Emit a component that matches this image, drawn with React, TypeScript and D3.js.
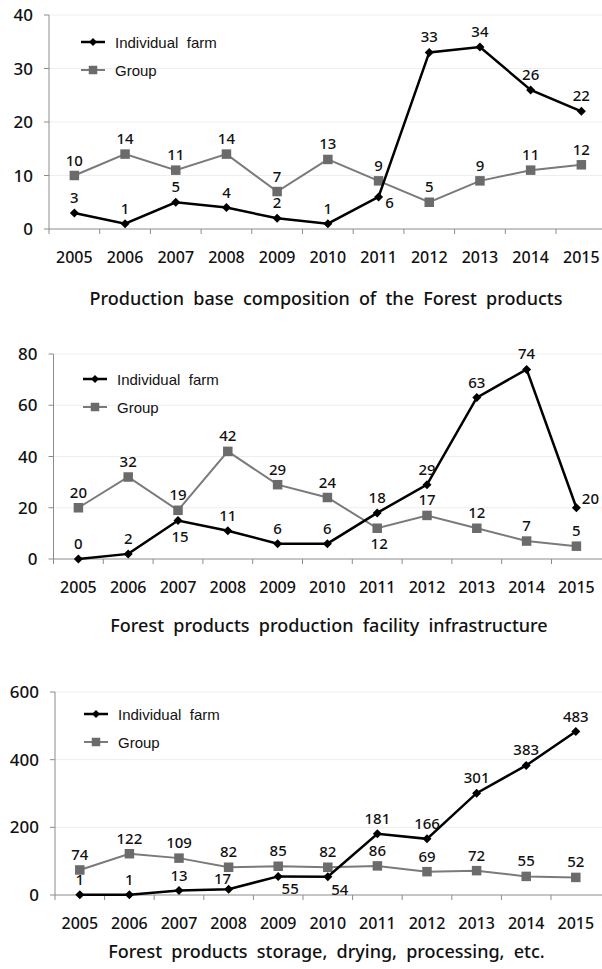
import * as d3 from "d3";

const years = ["2005", "2006", "2007", "2008", "2009", "2010", "2011", "2012", "2013", "2014", "2015"];

// Production base composition
const baseIndividual = [3, 1, 5, 4, 2, 1, 6, 33, 34, 26, 22];
const baseGroup = [10, 14, 11, 14, 7, 13, 9, 5, 9, 11, 12];
const baseTicks = [0, 10, 20, 30, 40];

// Production facility infrastructure
const facilityIndividual = [0, 2, 15, 11, 6, 6, 18, 29, 63, 74, 20];
const facilityGroup = [20, 32, 19, 42, 29, 24, 12, 17, 12, 7, 5];
const facilityTicks = [0, 20, 40, 60, 80];

// Storage, drying, processing
const storageIndividual = [1, 1, 13, 17, 55, 54, 181, 166, 301, 383, 483];
const storageGroup = [74, 122, 109, 82, 85, 82, 86, 69, 72, 55, 52];
const storageTicks = [0, 200, 400, 600];

// where each value label sits relative to its point
const baseIndividualPos = ["t", "t", "t", "t", "t", "t", "rb", "t", "t", "t", "t"];
const baseGroupPos = ["t", "t", "t", "t", "t", "t", "t", "t", "t", "t", "t"];
const facilityIndividualPos = ["t", "t", "b", "t", "t", "t", "t", "t", "t", "t", "r"];
const facilityGroupPos = ["t", "t", "t", "t", "t", "t", "b", "t", "t", "t", "t"];
const storageIndividualPos = ["t", "t", "t", "tl", "br", "br", "t", "t", "t", "t", "t"];
const storageGroupPos = ["t", "t", "t", "t", "t", "t", "t", "t", "t", "t", "t"];

const titles = [
  "Production base composition of the Forest products",
  "Forest products production facility infrastructure",
  "Forest products storage, drying, processing, etc.",
];

const offsets: Record<string, [number, number]> = {
  t: [0, -10],
  b: [2, 21],
  rb: [11, 11],
  br: [12, 18],
  r: [14, -4],
  tl: [-6, -5],
};

const panels = [
  {
    title: titles[0], individual: baseIndividual, group: baseGroup, iPos: baseIndividualPos, gPos: baseGroupPos,
    ticks: baseTicks, x0: 49, step: 50.7, yTop: 15, yBottom: 229, legendX: 81, legendY: 42, titleX: 326, titleY: 305,
  },
  {
    title: titles[1], individual: facilityIndividual, group: facilityGroup, iPos: facilityIndividualPos, gPos: facilityGroupPos,
    ticks: facilityTicks, x0: 53.5, step: 49.8, yTop: 354, yBottom: 559, legendX: 83, legendY: 379, titleX: 329, titleY: 632,
  },
  {
    title: titles[2], individual: storageIndividual, group: storageGroup, iPos: storageIndividualPos, gPos: storageGroupPos,
    ticks: storageTicks, x0: 55, step: 49.6, yTop: 692, yBottom: 895, legendX: 84, legendY: 714, titleX: 326.5, titleY: 958,
  },
];

const numFont = "'Noto Sans', 'DejaVu Sans', sans-serif";
const legendFont = "'Liberation Sans', Arial, sans-serif";
const black = "#000";
const gray = "#7a7a7a";
const grayMark = "#6b6b6b";
const textWeight = 500;

function Diamond({ x, y, r = 4.5 }: { x: number; y: number; r?: number }) {
  return <path d={`M${x},${y - r}L${x + r},${y}L${x},${y + r}L${x - r},${y}Z`} fill={black} />;
}

function Square({ x, y, s = 9.5 }: { x: number; y: number; s?: number }) {
  return <rect x={x - s / 2} y={y - s / 2} width={s} height={s} fill={grayMark} />;
}

function Panel({ p }: { p: (typeof panels)[number] }) {
  const x = d3.scaleBand<string>().domain(years).range([p.x0, p.x0 + p.step * years.length]);
  const cx = (d: string) => (x(d) ?? 0) + x.bandwidth() / 2;
  const y = d3.scaleLinear().domain([0, p.ticks[p.ticks.length - 1]]).range([p.yBottom, p.yTop]);
  const line = d3.line<number>().x((_, i) => cx(years[i])).y((v) => y(v));

  const labels = (vals: number[], pos: string[]) =>
    vals.map((v, i) => {
      const [dx, dy] = offsets[pos[i]];
      return (
        <text key={i} x={cx(years[i]) + dx} y={y(v) + dy} textAnchor="middle" fontSize={15} fontWeight={textWeight} fontFamily={numFont} fill="#111">
          {v}
        </text>
      );
    });

  return (
    <g>
      {p.ticks.slice(1).map((t) => (
        <line key={t} x1={p.x0} x2={602} y1={y(t)} y2={y(t)} stroke="#eeeeee" strokeWidth={1} />
      ))}
      <line x1={p.x0} x2={p.x0} y1={p.yTop} y2={p.yBottom} stroke="#8c8c8c" strokeWidth={1} />
      <line x1={p.x0} x2={602} y1={p.yBottom} y2={p.yBottom} stroke="#8c8c8c" strokeWidth={1} />
      {p.ticks.map((t) => (
        <g key={t}>
          <line x1={p.x0 - 5} x2={p.x0} y1={y(t)} y2={y(t)} stroke="#8c8c8c" />
          <text x={p.x0 - 16} y={y(t)} dy="0.36em" textAnchor="end" fontSize={17} fontWeight={textWeight} fontFamily={numFont} fill="#111">
            {t}
          </text>
        </g>
      ))}
      {years.map((yr) => (
        <line key={yr} x1={x(yr)} x2={x(yr)} y1={p.yBottom} y2={p.yBottom + 5} stroke="#8c8c8c" />
      ))}
      {years.map((yr) => (
        <text key={yr} x={cx(yr)} y={p.yBottom + 34} textAnchor="middle" fontSize={16} fontWeight={textWeight} fontFamily={numFont} fill="#111">
          {yr}
        </text>
      ))}

      <path d={line(p.group) ?? ""} fill="none" stroke={gray} strokeWidth={2} />
      {p.group.map((v, i) => (
        <Square key={i} x={cx(years[i])} y={y(v)} />
      ))}
      <path d={line(p.individual) ?? ""} fill="none" stroke={black} strokeWidth={2.5} />
      {p.individual.map((v, i) => (
        <Diamond key={i} x={cx(years[i])} y={y(v)} />
      ))}
      {labels(p.group, p.gPos)}
      {labels(p.individual, p.iPos)}

      <g>
        <line x1={p.legendX} x2={p.legendX + 24} y1={p.legendY} y2={p.legendY} stroke={black} strokeWidth={2.5} />
        <Diamond x={p.legendX + 12} y={p.legendY} r={4} />
        <text x={p.legendX + 34} y={p.legendY + 5.5} fontSize={15} fontFamily={legendFont} fill="#111" style={{ whiteSpace: "pre" }}>
          {"Individual  farm"}
        </text>
        <line x1={p.legendX} x2={p.legendX + 24} y1={p.legendY + 28} y2={p.legendY + 28} stroke={gray} strokeWidth={2} />
        <Square x={p.legendX + 12} y={p.legendY + 28} s={8.5} />
        <text x={p.legendX + 34} y={p.legendY + 33.5} fontSize={15} fontFamily={legendFont} fill="#111">
          Group
        </text>
      </g>

      <text x={p.titleX} y={p.titleY} textAnchor="middle" fontSize={18} fontWeight={textWeight} fontFamily={numFont} fill="#111" style={{ wordSpacing: "4.5px" }}>
        {p.title}
      </text>
    </g>
  );
}

export default function App() {
  return (
    <svg
      width={602}
      height={969}
      viewBox="0 0 602 969"
      style={{ position: "absolute", left: 0, top: 0, display: "block", background: "#fff" }}
    >
      <rect width={602} height={969} fill="#fff" />
      {panels.map((p, i) => (
        <Panel key={i} p={p} />
      ))}
    </svg>
  );
}
